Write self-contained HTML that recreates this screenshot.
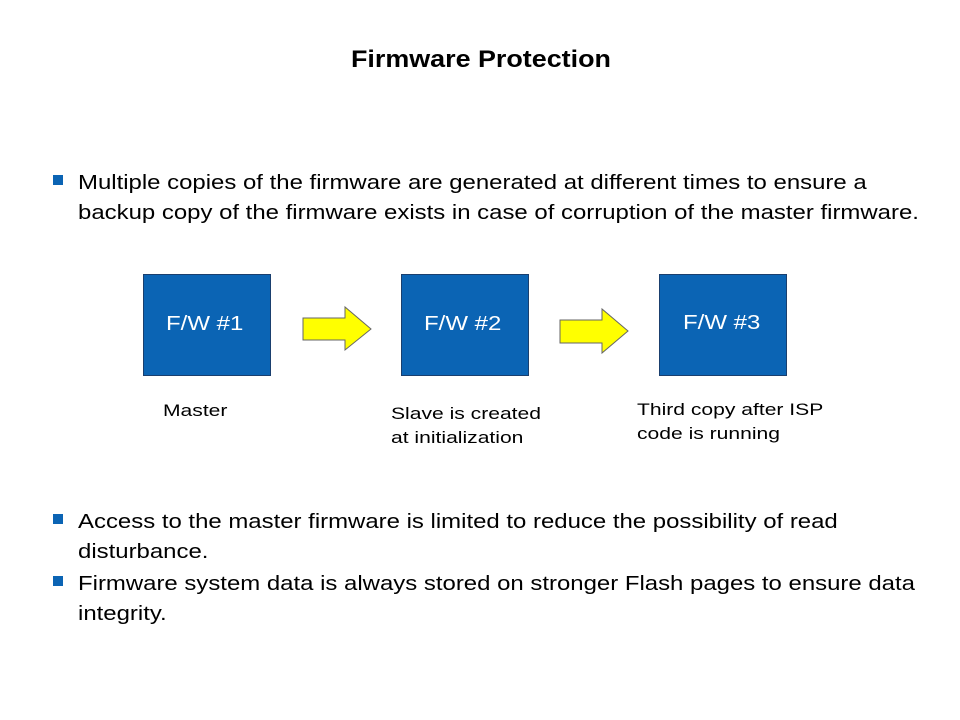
<!DOCTYPE html>
<html><head><style>
body{margin:0;width:960px;height:720px;background:#fff;font-family:"Liberation Sans",sans-serif;position:relative;overflow:hidden}
.t{position:absolute;white-space:nowrap;color:#000;transform-origin:0 0}
.b{position:absolute;width:10px;height:10px;background:#0b64b4}
.box{position:absolute;width:128px;height:102px;background:#0b64b4;border:1px solid #1a3f6e;box-sizing:border-box}
.bt{position:absolute;color:#fff;font-size:20px;white-space:nowrap;transform-origin:0 0;transform:scaleX(1.2)}
</style></head><body>
<div class="t" style="left:351px;top:46px;font-size:24px;font-weight:bold;transform:scaleX(1.12)">Firmware Protection</div>
<div class="b" style="left:53px;top:175px"></div>
<div class="t" style="left:78px;top:168px;font-size:20px;line-height:30px;transform:scaleX(1.197)">Multiple copies of the firmware are generated at different times to ensure a<br>backup copy of the firmware exists in case of corruption of the master firmware.</div>
<div class="box" style="left:143px;top:274px"></div>
<div class="box" style="left:401px;top:274px"></div>
<div class="box" style="left:659px;top:274px"></div>
<div class="bt" style="left:166px;top:313px">F/W #1</div>
<div class="bt" style="left:424px;top:313px">F/W #2</div>
<div class="bt" style="left:683px;top:312px">F/W #3</div>
<svg style="position:absolute;left:0;top:0" width="960" height="720">
<polygon points="303,318 345,318 345,307 371,329 345,350 345,340 303,340" fill="#ffff00" stroke="#666" stroke-width="1"/>
<polygon points="560,320 602,320 602,309 628,331 602,353 602,343 560,343" fill="#ffff00" stroke="#666" stroke-width="1"/>
</svg>
<div class="t" style="left:163px;top:401px;font-size:17px;transform:scaleX(1.24)">Master</div>
<div class="t" style="left:391px;top:402px;font-size:17px;line-height:24px;transform:scaleX(1.24)">Slave is created<br>at initialization</div>
<div class="t" style="left:637px;top:398px;font-size:17px;line-height:24px;transform:scaleX(1.24)">Third copy after ISP<br>code is running</div>
<div class="b" style="left:53px;top:514px"></div>
<div class="t" style="left:78px;top:507px;font-size:20px;line-height:30px;transform:scaleX(1.197)">Access to the master firmware is limited to reduce the possibility of read<br>disturbance.</div>
<div class="b" style="left:53px;top:576px"></div>
<div class="t" style="left:78px;top:569px;font-size:20px;line-height:30px;transform:scaleX(1.197)">Firmware system data is always stored on stronger Flash pages to ensure data<br>integrity.</div>
</body></html>
